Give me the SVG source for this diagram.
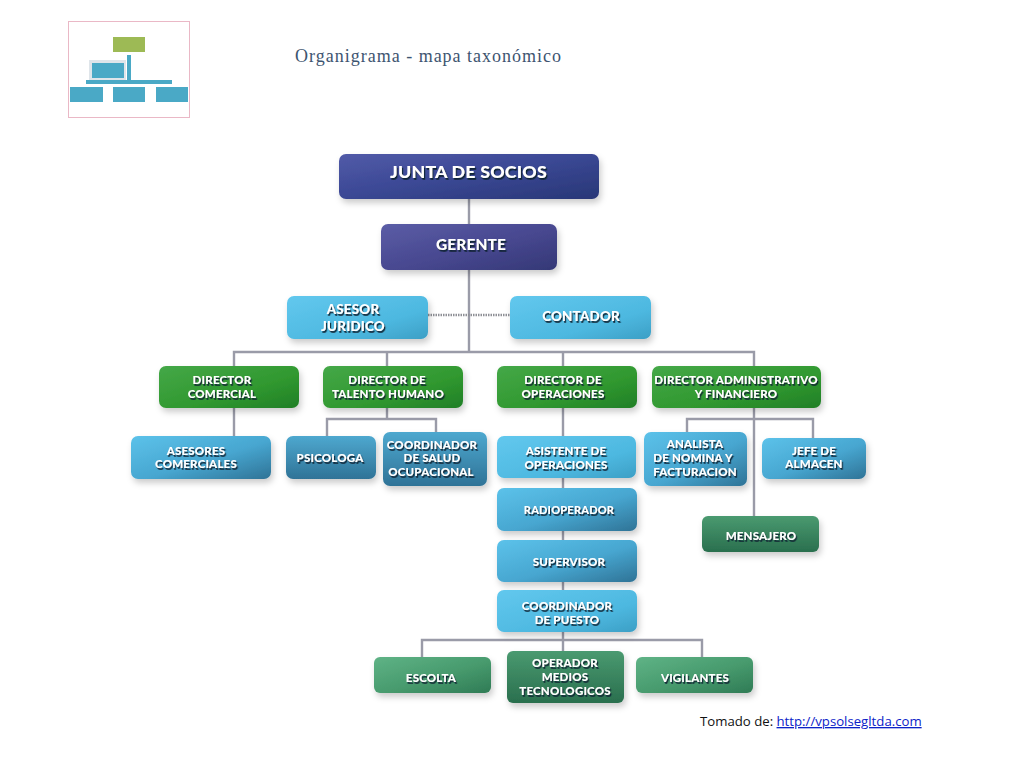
<svg xmlns="http://www.w3.org/2000/svg" width="1024" height="768" viewBox="0 0 1024 768">
<style>
.box{filter:url(#sh)}
.t{font-family:"Lato","Liberation Sans",sans-serif;font-weight:900;fill:#fff;text-anchor:middle;font-size:11.5px;letter-spacing:.2px;filter:url(#ts)}
.big{font-size:17.8px}
.mid{font-size:15.4px}
.sm{font-size:13.4px}
.ln{fill:none;stroke:#9a9ba8;stroke-width:2.4}
.ic{fill:#4aa9c6}
</style>
<defs>
<filter id="sh" x="-10%" y="-15%" width="125%" height="145%"><feDropShadow dx="2" dy="4" stdDeviation="3" flood-color="#000" flood-opacity=".2"/></filter>
<filter id="ts" x="-10%" y="-20%" width="120%" height="160%"><feGaussianBlur in="SourceGraphic" stdDeviation=".35" result="b"/><feDropShadow in="b" dx="1.2" dy="1.8" stdDeviation=".6" flood-color="#0c2430" flood-opacity=".95"/></filter>
<linearGradient id="navy" x1="0" y1="0" x2="1" y2="1"><stop offset="0" stop-color="#525ba8"/><stop offset=".45" stop-color="#3c4996"/><stop offset="1" stop-color="#283777"/></linearGradient>
<linearGradient id="purple" x1="0" y1="0" x2="1" y2="1"><stop offset="0" stop-color="#5b5da6"/><stop offset=".55" stop-color="#47478f"/><stop offset="1" stop-color="#343876"/></linearGradient>
<linearGradient id="sky" x1="0" y1="0" x2="1" y2="1"><stop offset="0" stop-color="#62c8ee"/><stop offset=".65" stop-color="#4db8e0"/><stop offset="1" stop-color="#3c9fc5"/></linearGradient>
<linearGradient id="blue" x1="0" y1="0" x2="1" y2="1"><stop offset="0" stop-color="#5cc2ea"/><stop offset=".55" stop-color="#47a6d0"/><stop offset="1" stop-color="#2f7396"/></linearGradient>
<linearGradient id="teal" x1="0" y1="0" x2="0" y2="1"><stop offset="0" stop-color="#4ea8cf"/><stop offset="1" stop-color="#2f7397"/></linearGradient>
<linearGradient id="green" x1="0" y1="0" x2="1" y2="1"><stop offset="0" stop-color="#45a848"/><stop offset=".6" stop-color="#30982f"/><stop offset="1" stop-color="#217f27"/></linearGradient>
<linearGradient id="sea" x1="0" y1="0" x2="1" y2="1"><stop offset="0" stop-color="#5fb386"/><stop offset=".55" stop-color="#479a6d"/><stop offset="1" stop-color="#2f7b55"/></linearGradient>
<linearGradient id="seadk" x1="0" y1="0" x2="0" y2="1"><stop offset="0" stop-color="#4a9a70"/><stop offset="1" stop-color="#2a6f4e"/></linearGradient>
</defs>
<rect width="1024" height="768" fill="#fff"/>

<g id="icon">
<rect x="68.5" y="21.5" width="121" height="96" fill="#fff" stroke="#eab8c6" stroke-width="1"/>
<rect x="113" y="37" width="32" height="15" fill="#9dba55"/>
<rect x="89" y="60" width="37" height="21" fill="#dfe5ea"/>
<rect class="ic" x="92" y="63" width="32" height="15"/>
<path d="M129 55V83M86 82H172" fill="none" stroke="#4aa9c6" stroke-width="4"/>
<rect class="ic" x="70" y="87" width="33" height="15"/>
<rect class="ic" x="113" y="87" width="32" height="15"/>
<rect class="ic" x="156" y="87" width="32" height="15"/>
</g>
<text id="title" x="295" y="62" font-family="'Liberation Serif',serif" font-size="18" letter-spacing="1" fill="#3d5470">Organigrama - mapa taxonómico</text>

<g id="connectors">
<path class="ln" d="M469 199V224M469 270V352M234 366V352H754V366M387 352V366M563 352V366"/>
<path d="M428 315H510" fill="none" stroke="#8f9096" stroke-width="2.400" stroke-dasharray="1.500 1"/>
<path class="ln" d="M234 408V436M387 408V419M327 436V419H436V432M563 408V436M563 478V488M563 531V540M563 582V590"/>
<path class="ln" d="M754 408V516M687 432V419H813V438M563 632V651M422 657V640H702V657"/>
</g>

<g id="n-junta"><rect class="box" x="339" y="154" width="260" height="45" rx="7" fill="url(#navy)"/><text class="t big" x="468.500" y="178">JUNTA DE SOCIOS</text></g>
<g id="n-gerente"><rect class="box" x="381" y="224" width="176" height="46" rx="7" fill="url(#purple)"/><text class="t mid" x="471" y="250">GERENTE</text></g>
<g id="n-asesor"><rect class="box" x="287" y="296" width="141" height="43" rx="7" fill="url(#sky)"/><text class="t sm" x="353" y="314">ASESOR</text><text class="t sm" x="353" y="331">JURIDICO</text></g>
<g id="n-contador"><rect class="box" x="510" y="296" width="141" height="43" rx="7" fill="url(#sky)"/><text class="t sm" x="581" y="321">CONTADOR</text></g>

<g id="n-dcomercial"><rect class="box" x="159" y="366" width="140" height="42" rx="7" fill="url(#green)"/><text class="t" x="222" y="384">DIRECTOR</text><text class="t" x="222" y="398">COMERCIAL</text></g>
<g id="n-dtalento"><rect class="box" x="323" y="366" width="140" height="42" rx="7" fill="url(#green)"/><text class="t" x="387" y="384">DIRECTOR DE</text><text class="t" x="388" y="398">TALENTO HUMANO</text></g>
<g id="n-doperaciones"><rect class="box" x="497" y="366" width="140" height="42" rx="7" fill="url(#green)"/><text class="t" x="563" y="384">DIRECTOR DE</text><text class="t" x="563" y="398">OPERACIONES</text></g>
<g id="n-dadmin"><rect class="box" x="652" y="366" width="169" height="42" rx="7" fill="url(#green)"/><text class="t" x="736" y="384">DIRECTOR ADMINISTRATIVO</text><text class="t" x="736" y="398">Y FINANCIERO</text></g>

<g id="n-asesores"><rect class="box" x="131" y="436" width="140" height="43" rx="7" fill="url(#blue)"/><text class="t" x="196" y="455">ASESORES</text><text class="t" x="196" y="468">COMERCIALES</text></g>
<g id="n-psicologa"><rect class="box" x="286" y="436" width="90" height="43" rx="7" fill="url(#teal)"/><text class="t" x="330" y="462">PSICOLOGA</text></g>
<g id="n-salud"><rect class="box" x="383" y="432" width="104" height="54" rx="7" fill="url(#teal)"/><text class="t" x="432" y="449">COORDINADOR</text><text class="t" x="432" y="462">DE SALUD</text><text class="t" x="431" y="476">OCUPACIONAL</text></g>
<g id="n-asistente"><rect class="box" x="497" y="436" width="139" height="42" rx="7" fill="url(#sky)"/><text class="t" x="566" y="455">ASISTENTE DE</text><text class="t" x="566" y="469">OPERACIONES</text></g>
<g id="n-radio"><rect class="box" x="497" y="488" width="140" height="43" rx="7" fill="url(#blue)"/><text class="t" style="font-size:11px" x="569" y="514">RADIOPERADOR</text></g>
<g id="n-supervisor"><rect class="box" x="497" y="540" width="140" height="42" rx="7" fill="url(#blue)"/><text class="t" x="569" y="566">SUPERVISOR</text></g>
<g id="n-puesto"><rect class="box" x="497" y="590" width="140" height="42" rx="7" fill="url(#sky)"/><text class="t" x="567" y="610">COORDINADOR</text><text class="t" x="567" y="624">DE PUESTO</text></g>
<g id="n-analista"><rect class="box" x="644" y="432" width="103" height="54" rx="7" fill="url(#blue)"/><text class="t" x="695" y="448">ANALISTA</text><text class="t" x="693" y="462">DE NOMINA Y</text><text class="t" x="695" y="476">FACTURACION</text></g>
<g id="n-jefe"><rect class="box" x="762" y="438" width="104" height="41" rx="7" fill="url(#blue)"/><text class="t" x="814" y="455">JEFE DE</text><text class="t" x="814" y="468">ALMACEN</text></g>
<g id="n-mensajero"><rect class="box" x="702" y="516" width="117" height="36" rx="6" fill="url(#seadk)"/><text class="t" x="761" y="540">MENSAJERO</text></g>

<g id="n-escolta"><rect class="box" x="374" y="657" width="117" height="36" rx="6" fill="url(#sea)"/><text class="t" x="431" y="682">ESCOLTA</text></g>
<g id="n-operador"><rect class="box" x="507" y="651" width="117" height="52" rx="6" fill="url(#seadk)"/><text class="t" x="565" y="667">OPERADOR</text><text class="t" x="565" y="681">MEDIOS</text><text class="t" x="565" y="695">TECNOLOGICOS</text></g>
<g id="n-vigilantes"><rect class="box" x="636" y="657" width="117" height="36" rx="6" fill="url(#sea)"/><text class="t" x="695" y="682">VIGILANTES</text></g>

<text id="source" x="700" y="726" font-family="'Open Sans','Liberation Sans',sans-serif" font-size="13.200" fill="#111">Tomado de: <tspan fill="#0b22c8" text-decoration="underline">http://vpsolsegltda.com</tspan></text>
</svg>
